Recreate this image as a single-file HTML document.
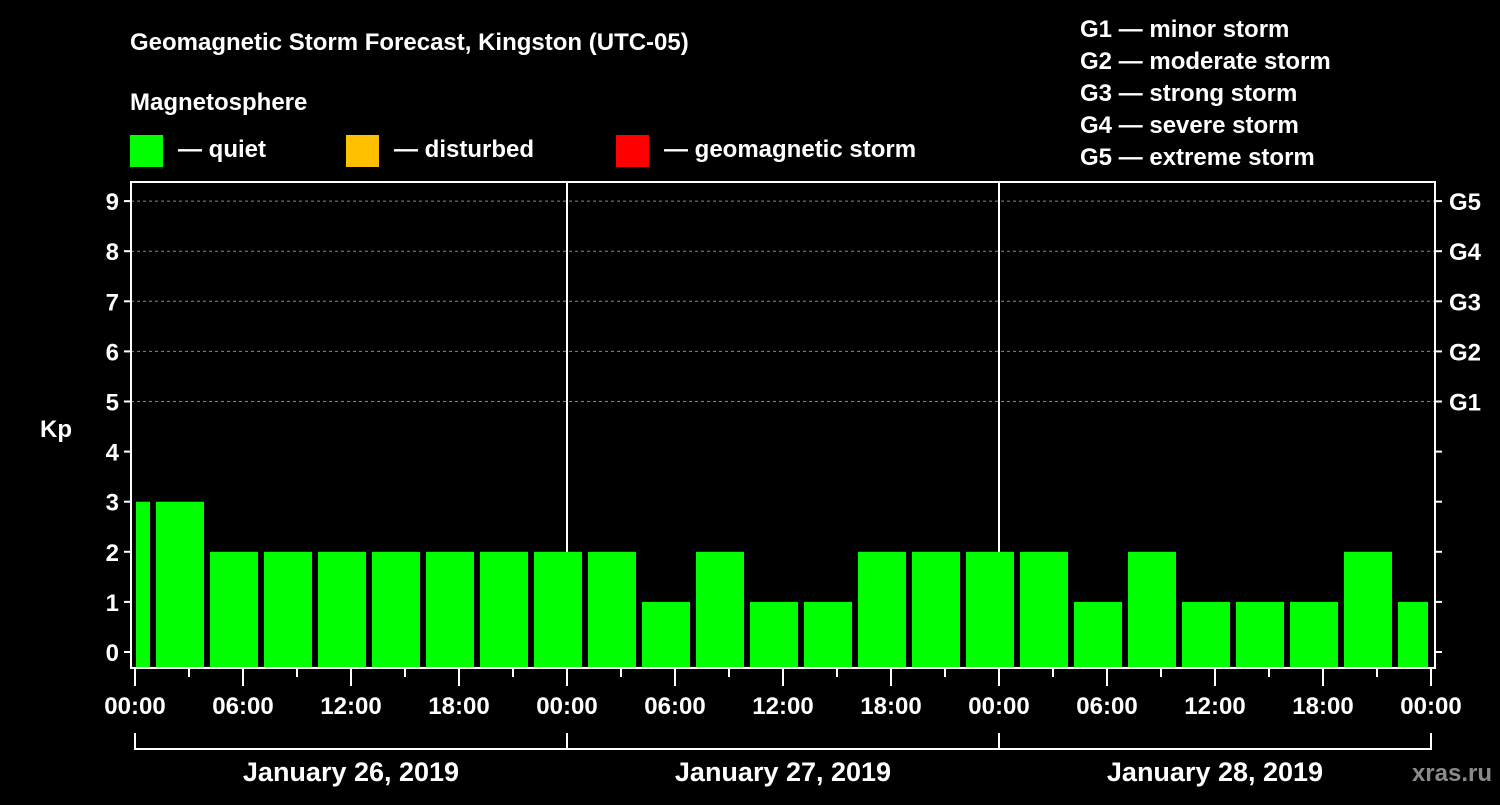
<!DOCTYPE html>
<html><head><meta charset="utf-8"><style>
body{margin:0;background:#000;width:1500px;height:800px;overflow:hidden}
svg text{font-family:"Liberation Sans",sans-serif;font-weight:bold;fill:#fff}
</style></head><body>
<svg width="1500" height="800">
<g id="static">
<text x="130" y="50" font-size="24">Geomagnetic Storm Forecast, Kingston (UTC-05)</text>
<text x="130" y="110" font-size="24">Magnetosphere</text>
<rect x="130" y="135" width="33" height="32" fill="#00ff00"/>
<text x="178" y="157" font-size="24">— quiet</text>
<rect x="346" y="135" width="33" height="32" fill="#ffc000"/>
<text x="394" y="157" font-size="24">— disturbed</text>
<rect x="616" y="135" width="33" height="32" fill="#ff0000"/>
<text x="664" y="157" font-size="24">— geomagnetic storm</text>
<text x="1080" y="37" font-size="24">G1 — minor storm</text>
<text x="1080" y="69" font-size="24">G2 — moderate storm</text>
<text x="1080" y="101" font-size="24">G3 — strong storm</text>
<text x="1080" y="133" font-size="24">G4 — severe storm</text>
<text x="1080" y="165" font-size="24">G5 — extreme storm</text>
<text x="40" y="437" font-size="24">Kp</text>
<text x="1492" y="781" font-size="24" text-anchor="end" fill="#888" style="fill:#8a8a8a">xras.ru</text>
</g>
<g id="grid"></g><g id="bars"></g><g id="axes"></g>
</svg>
<script>
const kpValues=[3,3,2,2,2,2,2,2,2,2,1,2,1,1,2,2,2,2,1,2,1,1,1,2,1];
const binStartHours=[-2,1,4,7,10,13,16,19,22,25,28,31,34,37,40,43,46,49,52,55,58,61,64,67,70];
const dayLabels=["January 26, 2019","January 27, 2019","January 28, 2019"];
const xTickLabels=["00:00","06:00","12:00","18:00"];
const gLabels=["G1","G2","G3","G4","G5"];
const NS="http://www.w3.org/2000/svg";
const X0=135,PXH=18,Y0=652,PXK=50.1,TOP=182,BOT=668,L=131,R=1435;
const x=h=>Math.max(133,Math.min(1431,X0+h*PXH));
const y=k=>Y0-k*PXK;
function mk(t,a,p){const e=document.createElementNS(NS,t);for(const k in a)e.setAttribute(k,a[k]);p.appendChild(e);return e;}
const grid=document.getElementById('grid'),bars=document.getElementById('bars'),axes=document.getElementById('axes');
for(let k=5;k<=9;k++){const l=mk('line',{x1:L,x2:R,y1:y(k),y2:y(k),stroke:'#888','stroke-dasharray':'3,3','stroke-width':1},grid);

}
for(let d=1;d<3;d++){const l=mk('line',{x1:X0+d*432,x2:X0+d*432,y1:TOP,y2:BOT,stroke:'#fff','stroke-width':2},grid);

}
kpValues.forEach((v,i)=>{const h=binStartHours[i];
const x1=Math.max(136,X0+h*PXH+3),x2=Math.min(1428,X0+(h+3)*PXH-3);
const c=v>=5?'#ff0000':(v>=4?'#ffc000':'#00ff00');
const b=mk('rect',{x:x1,y:y(v),width:x2-x1,height:BOT-y(v),fill:c},bars);

});
const fr=mk('rect',{x:L,y:TOP,width:R-L,height:BOT-TOP,fill:'none',stroke:'#fff','stroke-width':2},axes);


for(let k=0;k<=9;k++){mk('line',{x1:L-7,x2:L,y1:y(k),y2:y(k),stroke:'#fff','stroke-width':2},axes);
mk('line',{x1:R,x2:R+7,y1:y(k),y2:y(k),stroke:'#fff','stroke-width':2},axes);
const t=mk('text',{x:L-12,y:y(k)+9,'font-size':24,'text-anchor':'end'},axes);t.textContent=k;

}
gLabels.forEach((g,i)=>{const t=mk('text',{x:1449,y:y(i+5)+9,'font-size':24},axes);t.textContent=g;

});
for(let h=0;h<=72;h+=3){const xx=X0+h*PXH;mk('line',{x1:xx,x2:xx,y1:BOT,y2:h%6==0?686:677,stroke:'#fff','stroke-width':2},axes);
if(h%6==0){const t=mk('text',{x:xx,y:714,'font-size':24,'text-anchor':'middle'},axes);t.textContent=xTickLabels[(h/6)%4];

}}
mk('line',{x1:X0,x2:X0+72*PXH,y1:749,y2:749,stroke:'#fff','stroke-width':2},axes);
for(let d=0;d<=3;d++)mk('line',{x1:X0+d*432,x2:X0+d*432,y1:733,y2:750,stroke:'#fff','stroke-width':2},axes);
dayLabels.forEach((s,d)=>{const t=mk('text',{x:X0+d*432+216,y:781,'font-size':27,'text-anchor':'middle'},axes);t.textContent=s;

});
</script>
</body></html>
